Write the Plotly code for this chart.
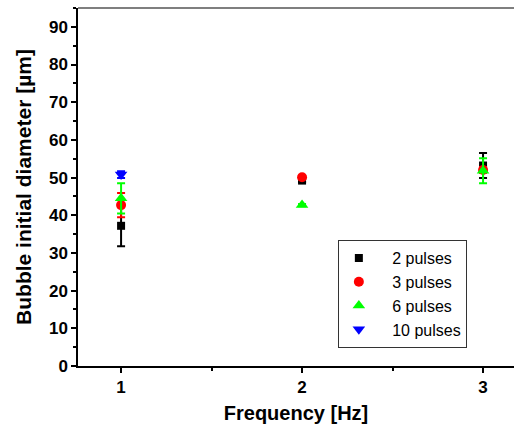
import plotly.graph_objects as go

# Bubble initial diameter vs. excitation frequency for different pulse counts
freq = [1, 2, 3]

d_2p = [37.2, 49.2, 53.2]
e_2p = [5.4, 0.4, 3.3]

d_3p = [42.7, 50.1, 52.0]
e_3p = [3.2, 0.4, 0.8]

d_6p = [44.5, 42.7, 51.8]
e_6p = [4.0, 0.3, 3.3]

freq_10p = [1]
d_10p = [50.8]
e_10p = [0.9]

FONT = "Liberation Sans"

series = [
    ("2 pulses", freq, d_2p, e_2p, "#000000", "square", 8),
    ("3 pulses", freq, d_3p, e_3p, "#FF0000", "circle", 10),
    ("6 pulses", freq, d_6p, e_6p, "#00FF00", "triangle-up", 11),
    ("10 pulses", freq_10p, d_10p, e_10p, "#0000FF", "triangle-down", 11),
]

fig = go.Figure()
for name, x, y, err, color, symbol, size in series:
    fig.add_trace(go.Scatter(
        x=x, y=y, name="\u00a0\u00a0\u00a0" + name, mode="markers",
        marker=dict(color=color, symbol=symbol, size=size, line=dict(width=0)),
        error_y=dict(type="data", array=err, visible=True,
                     color=color, thickness=2, width=4),
    ))

axis_common = dict(
    showline=True, linecolor="#000000", linewidth=1.5,
    ticks="outside", ticklen=5, tickwidth=1.5, tickcolor="#000000",
    showgrid=False, zeroline=False,
    tickfont=dict(family=FONT, size=17, color="#000000", weight="bold"),
)

fig.update_xaxes(
    range=[0.762, 3.171], tickvals=[1, 2, 3],
    minor=dict(dtick=0.5, tick0=0.5, ticks="outside", ticklen=3,
               tickwidth=1.5, tickcolor="#000000"),
    title=dict(text="Frequency [Hz]", standoff=10,
               font=dict(family=FONT, size=20, color="#000000", weight="bold")),
    **axis_common,
)
fig.update_yaxes(
    range=[0, 95], dtick=10, tick0=0,
    minor=dict(dtick=5, tick0=0, ticks="outside", ticklen=3,
               tickwidth=1.5, tickcolor="#000000"),
    title=dict(text="Bubble initial diameter [µm]", standoff=12,
               font=dict(family=FONT, size=21, color="#000000", weight="bold")),
    **axis_common,
)

# top frame line
fig.add_shape(type="line", xref="paper", yref="paper", x0=0, x1=1, y0=1, y1=1,
              line=dict(color="#000000", width=1.2))

fig.update_layout(
    width=514, height=431,
    margin=dict(l=78, r=0, t=8, b=65),
    paper_bgcolor="white", plot_bgcolor="white",
    showlegend=True,
    legend=dict(
        x=0.596, y=0.352, xanchor="left", yanchor="top",
        bgcolor="white", bordercolor="#333333", borderwidth=1,
        font=dict(family=FONT, size=16, color="#000000"),
        itemsizing="trace", tracegroupgap=0,
    ),
)

fig.write_html("out.html")
